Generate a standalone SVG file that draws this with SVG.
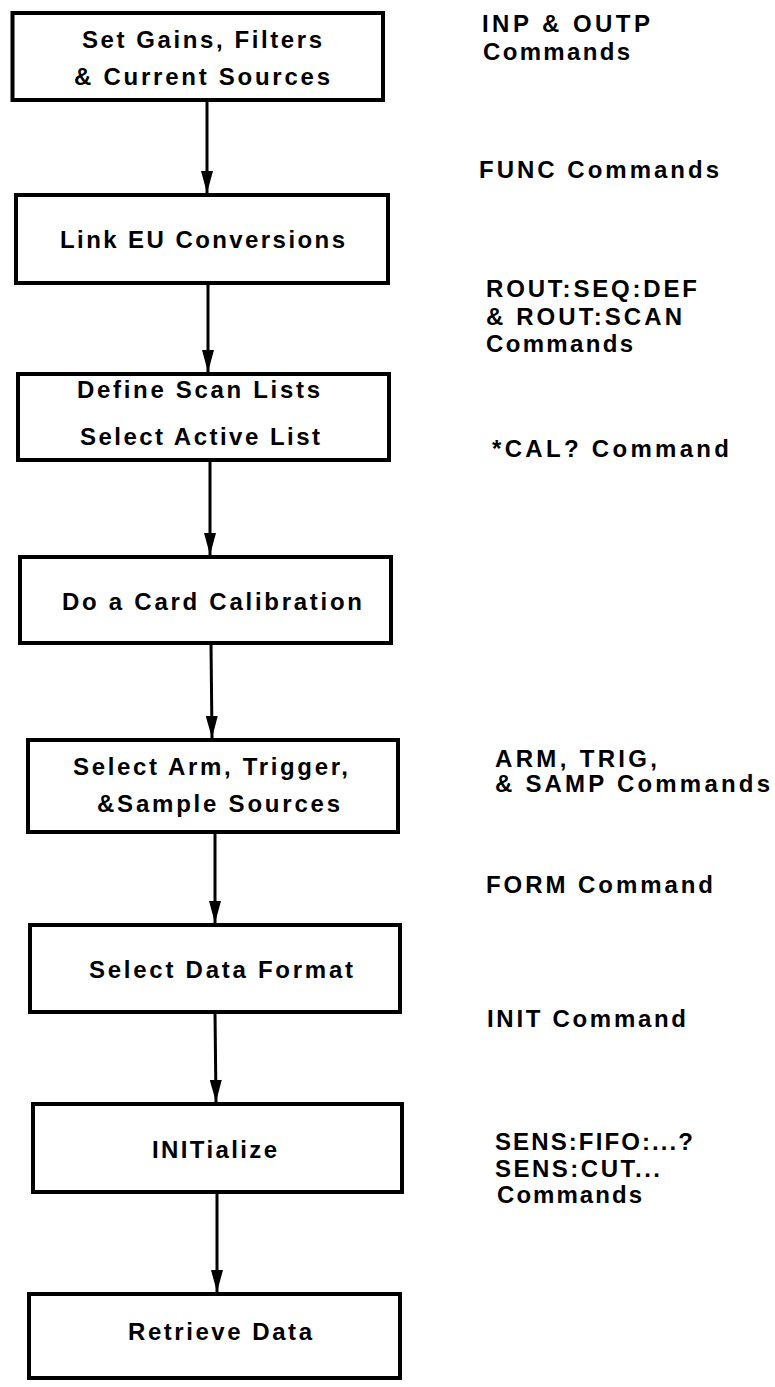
<svg xmlns="http://www.w3.org/2000/svg" width="775" height="1387" viewBox="0 0 775 1387">
<style>
.box{fill:#fff;stroke:#000;stroke-width:4}
.t{font-family:"Liberation Sans",Arial,sans-serif;font-weight:bold;font-size:24px;fill:#000}
.c{stroke:#000;stroke-width:3;fill:none;marker-end:url(#ah)}
</style>
<defs>
<marker id="ah" markerUnits="userSpaceOnUse" viewBox="0 0 22 12" refX="22" refY="6" markerWidth="22" markerHeight="12" orient="auto">
<path d="M0,0 L22,6 L0,12 z" fill="#000"/>
</marker>
</defs>
<rect width="775" height="1387" fill="#fff"/>
<g id="connectors">
<line class="c" x1="207" y1="100" x2="207" y2="193"/>
<line class="c" x1="208" y1="283" x2="208" y2="372"/>
<line class="c" x1="210" y1="460" x2="210" y2="555"/>
<line class="c" x1="211" y1="643" x2="212" y2="738"/>
<line class="c" x1="215" y1="832" x2="215" y2="923"/>
<line class="c" x1="215" y1="1012" x2="216" y2="1102"/>
<line class="c" x1="217" y1="1192" x2="217" y2="1292"/>
</g>
<g id="n1">
<rect class="box" x="12.5" y="13" width="370.5" height="87"/>
<text class="t" x="82" y="48" textLength="240" lengthAdjust="spacing">Set Gains, Filters</text>
<text class="t" x="74" y="85" textLength="256" lengthAdjust="spacing">&amp; Current Sources</text>
</g>
<g id="n2">
<rect class="box" x="16" y="195" width="372" height="88"/>
<text class="t" x="60" y="248" textLength="285" lengthAdjust="spacing">Link EU Conversions</text>
</g>
<g id="n3">
<rect class="box" x="18" y="374" width="371" height="86"/>
<text class="t" x="77" y="398" textLength="243" lengthAdjust="spacing">Define Scan Lists</text>
<text class="t" x="80" y="445" textLength="240" lengthAdjust="spacing">Select Active List</text>
</g>
<g id="n4">
<rect class="box" x="20" y="557" width="371" height="86"/>
<text class="t" x="62" y="610" textLength="300" lengthAdjust="spacing">Do a Card Calibration</text>
</g>
<g id="n5">
<rect class="box" x="28" y="740" width="370" height="92"/>
<text class="t" x="73" y="775" textLength="275" lengthAdjust="spacing">Select Arm, Trigger,</text>
<text class="t" x="97" y="812" textLength="243" lengthAdjust="spacing">&amp;Sample Sources</text>
</g>
<g id="n6">
<rect class="box" x="30" y="925" width="370" height="87"/>
<text class="t" x="89" y="978" textLength="264" lengthAdjust="spacing">Select Data Format</text>
</g>
<g id="n7">
<rect class="box" x="33" y="1104" width="369" height="88"/>
<text class="t" x="152" y="1158" textLength="125" lengthAdjust="spacing">INITialize</text>
</g>
<g id="n8">
<rect class="box" x="29" y="1294" width="371" height="84"/>
<text class="t" x="128" y="1340" textLength="184" lengthAdjust="spacing">Retrieve Data</text>
</g>
<g id="labels">
<text class="t" x="482" y="32" textLength="168" lengthAdjust="spacing">INP &amp; OUTP</text>
<text class="t" x="483" y="60" textLength="147" lengthAdjust="spacing">Commands</text>
<text class="t" x="479" y="178" textLength="240" lengthAdjust="spacing">FUNC Commands</text>
<text class="t" x="486" y="297" textLength="211" lengthAdjust="spacing">ROUT:SEQ:DEF</text>
<text class="t" x="486" y="325" textLength="196" lengthAdjust="spacing">&amp; ROUT:SCAN</text>
<text class="t" x="486" y="352" textLength="147" lengthAdjust="spacing">Commands</text>
<text class="t" x="492" y="457" textLength="237" lengthAdjust="spacing">*CAL? Command</text>
<text class="t" x="495" y="767" textLength="162" lengthAdjust="spacing">ARM, TRIG,</text>
<text class="t" x="495" y="792" textLength="275" lengthAdjust="spacing">&amp; SAMP Commands</text>
<text class="t" x="486" y="893" textLength="227" lengthAdjust="spacing">FORM Command</text>
<text class="t" x="487" y="1027" textLength="199" lengthAdjust="spacing">INIT Command</text>
<text class="t" x="495" y="1150" textLength="198" lengthAdjust="spacing">SENS:FIFO:...?</text>
<text class="t" x="495" y="1177" textLength="165" lengthAdjust="spacing">SENS:CUT...</text>
<text class="t" x="497" y="1203" textLength="145" lengthAdjust="spacing">Commands</text>
</g>
</svg>
